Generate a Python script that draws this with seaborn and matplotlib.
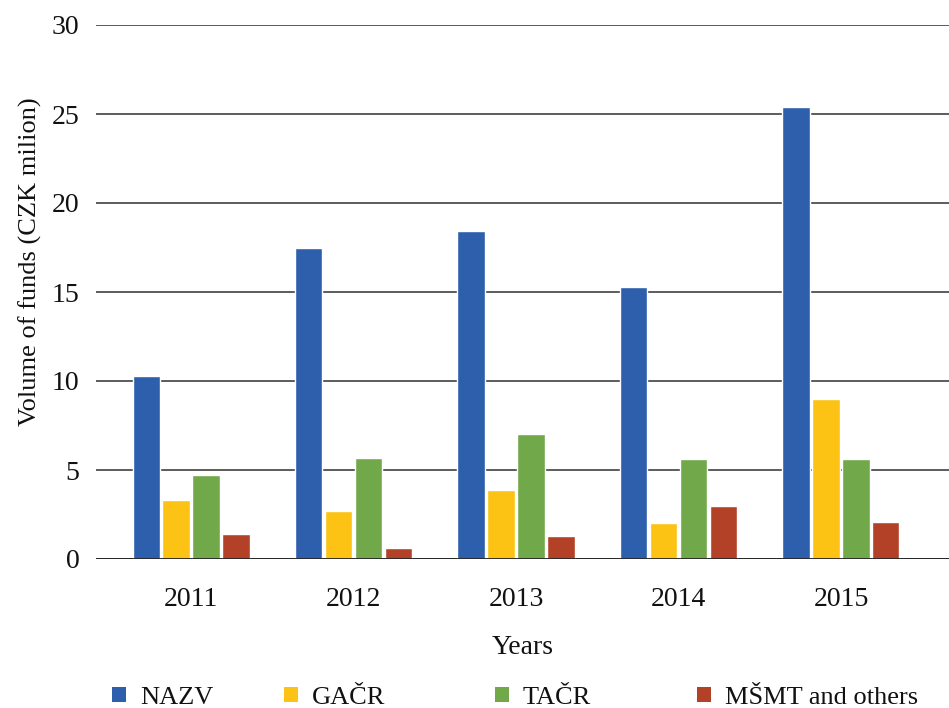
import matplotlib
matplotlib.use("Agg")
import matplotlib.pyplot as plt
import seaborn as sns
import pandas as pd
from matplotlib.patches import Patch

years = ["2011", "2012", "2013", "2014", "2015"]
nazv = [10.3, 17.5, 18.4, 15.3, 25.4]
gacr = [3.3, 2.7, 3.9, 2.0, 9.0]
tacr = [4.7, 5.7, 7.0, 5.6, 5.6]
msmt = [1.4, 0.6, 1.3, 3.0, 2.1]
series = ["NAZV", "GAČR", "TAČR", "MŠMT and others"]
colors = ["#2E5FAC", "#FCC314", "#70A84A", "#B34127"]

rows = []
for name, vals in zip(series, [nazv, gacr, tacr, msmt]):
    for y, v in zip(years, vals):
        rows.append({"Year": y, "Source": name, "Value": v})
df = pd.DataFrame(rows)

sns.set_theme(style="white")
plt.rcParams["font.family"] = ["Liberation Serif", "DejaVu Serif"]

W, H = 949, 708
fig = plt.figure(figsize=(W/100, H/100), dpi=100)
ax = fig.add_axes([96/W, 1-559/H, (W-96)/W, (559-25)/H])

sns.barplot(data=df, x="Year", y="Value", hue="Source", order=years,
            hue_order=series, palette=colors, width=0.735, gap=0.08,
            saturation=1, ax=ax, legend=False, errorbar=None)

ax.set_ylim(0, 30)
ax.set_yticks([0, 5, 10, 15, 20, 25, 30])
ax.set_xlim(-0.585, 4.665)
ax.yaxis.grid(True, color="#303030", linewidth=1.1)
ax.set_axisbelow(True)
for s in ax.spines.values():
    s.set_visible(False)
ax.axhline(0, color="#222222", linewidth=1.3, zorder=5)
ax.tick_params(axis="both", length=0, labelsize=20, colors="#111111")
ax.tick_params(axis="y", pad=12)
ax.tick_params(axis="x", pad=20)
ax.set_xlabel("Years", fontsize=20, color="#111111", labelpad=17)
ax.set_ylabel("Volume of funds (CZK milion)", fontsize=19, color="#111111",
              va="center")
ax.yaxis.set_label_coords((30-96)/(W-96), (559-262)/(559-25))

legend_x = [112, 284, 495, 697]
for c, name, lx in zip(colors, series, legend_x):
    leg = fig.legend([Patch(facecolor=c, edgecolor="none")], [name],
                     loc="center left", bbox_to_anchor=(lx/W, 1-698/H),
                     frameon=False, fontsize=19, handlelength=0.53,
                     handleheight=0.53, handletextpad=0.53, borderpad=0,
                     borderaxespad=0, labelcolor="#111111")

fig.savefig("out.png", dpi=100)
